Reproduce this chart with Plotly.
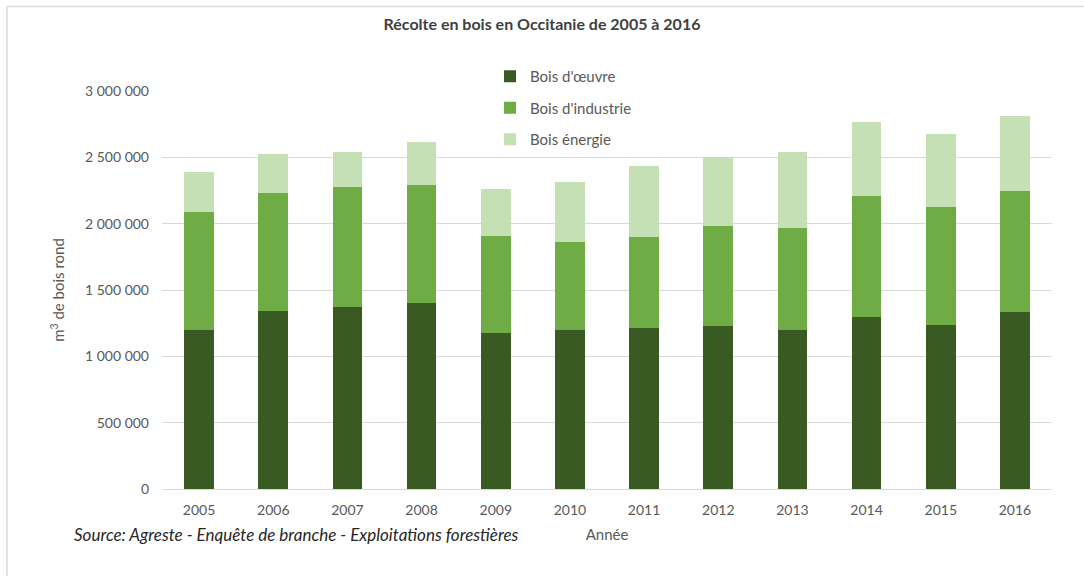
import plotly.graph_objects as go

years = ["2005", "2006", "2007", "2008", "2009", "2010", "2011", "2012", "2013", "2014", "2015", "2016"]
bois_oeuvre = [1200000, 1343000, 1374000, 1401000, 1175000, 1198000, 1215000, 1225000, 1200000, 1300000, 1238000, 1336000]
bois_industrie = [885000, 889000, 903000, 893000, 732000, 661000, 685000, 760000, 770000, 909000, 885000, 913000]
bois_energie = [305000, 294000, 266000, 323000, 355000, 453000, 538000, 518000, 568000, 556000, 556000, 561000]

series = [
    ("Bois d'œuvre", bois_oeuvre, "#3a5a23"),
    ("Bois d'industrie", bois_industrie, "#6fac46"),
    ("Bois énergie", bois_energie, "#c5e0b4"),
]

W, H = 1084, 576
L, R, T, B = 162, 32, 91, 87

fig = go.Figure()
for i, (name, vals, col) in enumerate(series):
    fig.add_trace(go.Bar(x=years, y=vals, name=name, marker_color=col,
                         marker_line_width=0, legendgroup=f"g{i}"))

def px_x(p):
    return (p - L) / (W - L - R)

def px_y(p):
    return (H - B - p) / (H - T - B)

fig.update_layout(
    width=W, height=H,
    margin=dict(l=L, r=R, t=T, b=B),
    barmode="stack", bargap=0.6,
    plot_bgcolor="white", paper_bgcolor="white",
    separators=", ",
    font=dict(family="Lato, Open Sans, sans-serif", color="#595959", size=14),
    title=dict(text="<b>Récolte en bois en Occitanie de 2005 à 2016</b>",
               x=0.5, xanchor="center", y=1 - 24 / H, yanchor="middle",
               font=dict(size=16, color="#404040")),
    legend=dict(orientation="v", x=px_x(490), y=px_y(60), xanchor="left", yanchor="top",
                bgcolor="white", traceorder="grouped", tracegroupgap=9,
                font=dict(size=15, color="#595959"), itemwidth=30),
    xaxis=dict(showgrid=False, showline=True, linecolor="#d9d9d9", linewidth=1,
               ticks="", ticklabelstandoff=8, tickfont=dict(size=14, color="#595959"),
               title=dict(text="Année", font=dict(size=15, color="#595959"), standoff=12)),
    yaxis=dict(range=[0, 3000000], dtick=500000, tickformat=",d",
               showgrid=True, gridcolor="#d9d9d9", gridwidth=1, zeroline=False,
               showline=False, ticks="", ticklabelstandoff=12,
               tickfont=dict(size=14, color="#595959"),
               title=dict(text="m<sup>3</sup> de bois rond", font=dict(size=15, color="#595959"),
                          standoff=16)),
)

fig.add_annotation(text="<i>Source: Agreste - Enquête de branche - Exploitations forestières</i>",
                   xref="paper", yref="paper", x=px_x(72), y=px_y(534),
                   xanchor="left", yanchor="middle", showarrow=False,
                   font=dict(size=17, color="#262626"))

fig.add_shape(type="line", xref="paper", yref="paper", x0=px_x(7), x1=px_x(1084),
              y0=px_y(6.5), y1=px_y(6.5), line=dict(color="#d9d9d9", width=1.5))
fig.add_shape(type="line", xref="paper", yref="paper", x0=px_x(7), x1=px_x(7),
              y0=px_y(6.5), y1=px_y(576), line=dict(color="#d9d9d9", width=1.5))

fig.write_html("out.html")
